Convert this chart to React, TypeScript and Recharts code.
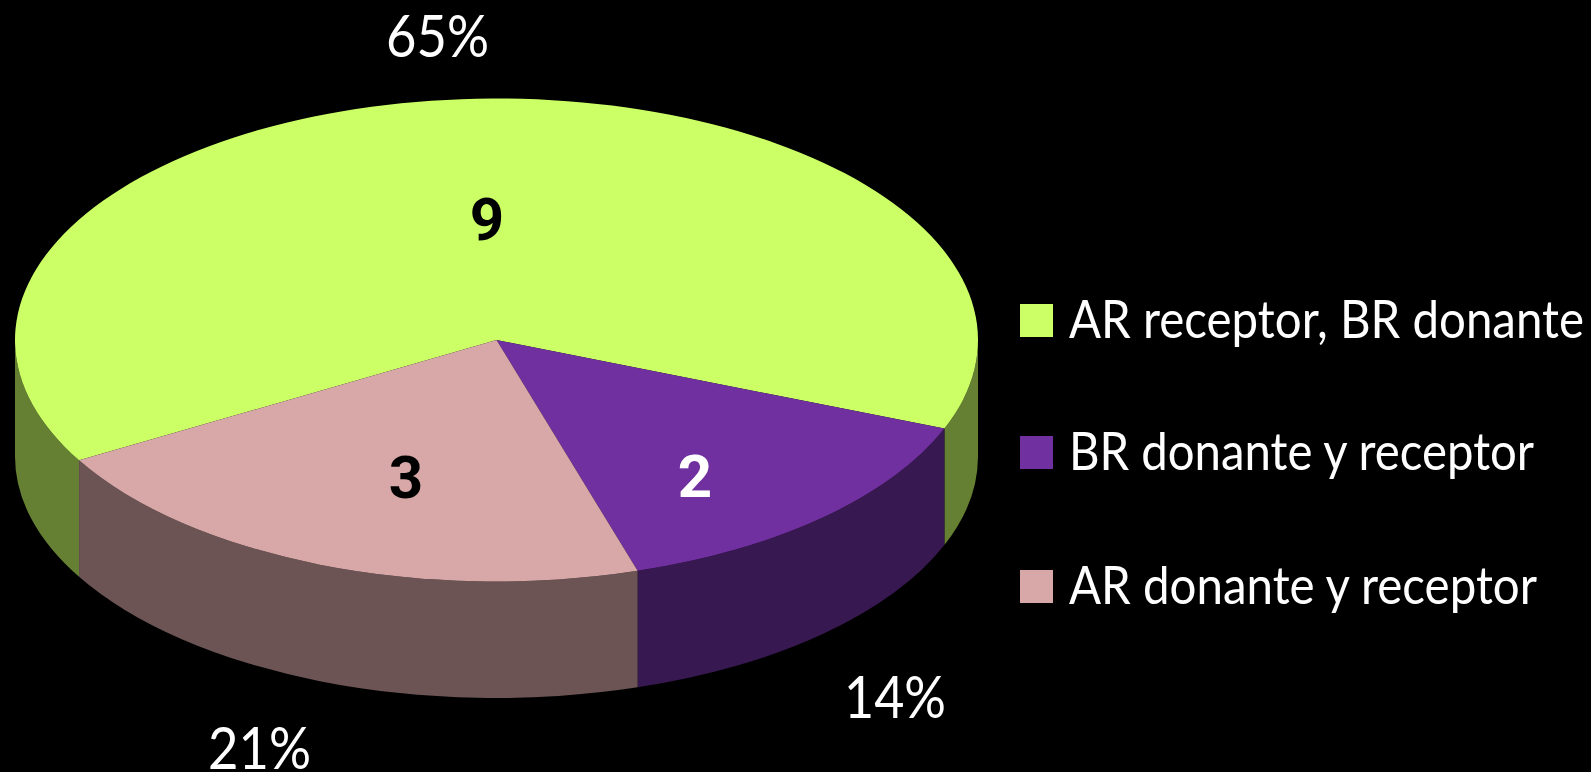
import { PieChart, Pie, Legend, Sector } from 'recharts';

const categories = ['AR receptor, BR donante', 'BR donante y receptor', 'AR donante y receptor'];
const patients = [9, 2, 3];
const percentLabels = ['65%', '14%', '21%'];
const topColors = ['#CCFF66', '#7030A0', '#D8A8A8'];
const wallColors = ['#668033', '#381850', '#6C5454'];

const topData = categories.map((name, i) => ({ name, value: patients[i], fill: topColors[i] }));
const wallData = categories.map((name, i) => ({ name, value: patients[i], fill: wallColors[i] }));

const WIDTH = 1591;
const HEIGHT = 772;
const CX = 496.5;
const CY = 340;
const RX = 481.5;
const TILT = 0.5015;
const DEPTH = 116.5;
const START_ANGLE = 209.9;
const FONT = 'Lato, "Open Sans", sans-serif';
const BOLD_FONT = 'Roboto, "Noto Sans", sans-serif';

// label placement, by slice
const countLabels = [
  { x: 487, y: 240 },
  { x: 695, y: 497 },
  { x: 406, y: 498 },
];
const pctLabels = [
  { x: 386, y: 57, w: 103 },
  { x: 844, y: 718, w: 102 },
  { x: 208, y: 769, w: 103 },
];
const legendRows = [
  { swatch: 304, base: 338, w: 515 },
  { swatch: 436, base: 470, w: 465 },
  { swatch: 570, base: 604, w: 468 },
];

// pie is drawn as a flat circle, this squashes it to the tilted ellipse
const squash = `translate(${CX} ${CY}) scale(1 ${TILT}) translate(${-CX} ${-CY})`;

const TopShape = (props: any) => (
  <g transform={squash}>
    <Sector {...props} cx={CX} cy={CY} stroke="none" />
  </g>
);

const point = (deg: number, dy = 0) => {
  const rad = (deg * Math.PI) / 180;
  return `${CX + RX * Math.cos(rad)} ${CY - RX * TILT * Math.sin(rad) + dy}`;
};

// only the part of a slice on the lower half of the ellipse has a visible wall
const WallShape = (props: any) => {
  const lo = Math.min(props.startAngle, props.endAngle);
  const hi = Math.max(props.startAngle, props.endAngle);
  const ry = RX * TILT;
  const paths: string[] = [];
  [[-180, 0], [180, 360]].forEach(([a, b]) => {
    const from = Math.max(lo, a);
    const to = Math.min(hi, b);
    if (to <= from) return;
    paths.push(
      `M ${point(from)} A ${RX} ${ry} 0 0 0 ${point(to)} L ${point(to, DEPTH)} A ${RX} ${ry} 0 0 1 ${point(from, DEPTH)} Z`,
    );
  });
  return <path d={paths.join(' ')} fill={props.fill} />;
};

const renderCount = ({ index }: any) => {
  const l = countLabels[index];
  return (
    <text
      x={l.x}
      y={l.y}
      textAnchor="middle"
      fontFamily={BOLD_FONT}
      fontWeight={700}
      fontSize={60}
      fill={index === 1 ? '#ffffff' : '#000000'}
    >
      {patients[index]}
    </text>
  );
};

const renderPercent = ({ index }: any) => {
  const l = pctLabels[index];
  return (
    <text
      x={l.x}
      y={l.y}
      fontFamily={FONT}
      fontWeight={400}
      fontSize={58}
      fill="#ffffff"
      textLength={l.w}
      lengthAdjust="spacingAndGlyphs"
    >
      {percentLabels[index]}
    </text>
  );
};

const LegendRows = ({ payload }: any) => (
  <svg width={WIDTH} height={HEIGHT} style={{ display: 'block' }}>
    {(payload || [])
      .filter((item: any) => item.type !== 'none')
      .map((item: any, i: number) => (
        <g key={item.value}>
          <rect x={1020} y={legendRows[i].swatch} width={33} height={33} fill={item.color} />
          <text
            x={1069}
            y={legendRows[i].base}
            fontFamily={FONT}
            fontWeight={400}
            fontSize={53}
            fill="#ffffff"
            textLength={legendRows[i].w}
            lengthAdjust="spacingAndGlyphs"
          >
            {item.value}
          </text>
        </g>
      ))}
  </svg>
);

export default function App() {
  return (
    <div style={{ width: WIDTH, height: HEIGHT, background: '#000', overflow: 'hidden' }}>
      <style>{'html, body { margin: 0; background: #000; }'}</style>
      <PieChart width={WIDTH} height={HEIGHT} margin={{ top: 0, right: 0, bottom: 0, left: 0 }}>
        <Pie
          data={wallData}
          dataKey="value"
          nameKey="name"
          cx={CX}
          cy={CY}
          outerRadius={RX}
          startAngle={START_ANGLE}
          endAngle={START_ANGLE - 360}
          stroke="none"
          legendType="none"
          shape={WallShape}
          label={renderPercent}
          labelLine={false}
          isAnimationActive={false}
        />
        <Pie
          data={topData}
          dataKey="value"
          nameKey="name"
          cx={CX}
          cy={CY}
          outerRadius={RX}
          startAngle={START_ANGLE}
          endAngle={START_ANGLE - 360}
          stroke="none"
          shape={TopShape}
          label={renderCount}
          labelLine={false}
          isAnimationActive={false}
        />
        <Legend
          content={<LegendRows />}
          itemSorter={null}
          wrapperStyle={{ position: 'absolute', left: 0, top: 0, width: WIDTH, height: HEIGHT, pointerEvents: 'none' }}
        />
      </PieChart>
    </div>
  );
}
